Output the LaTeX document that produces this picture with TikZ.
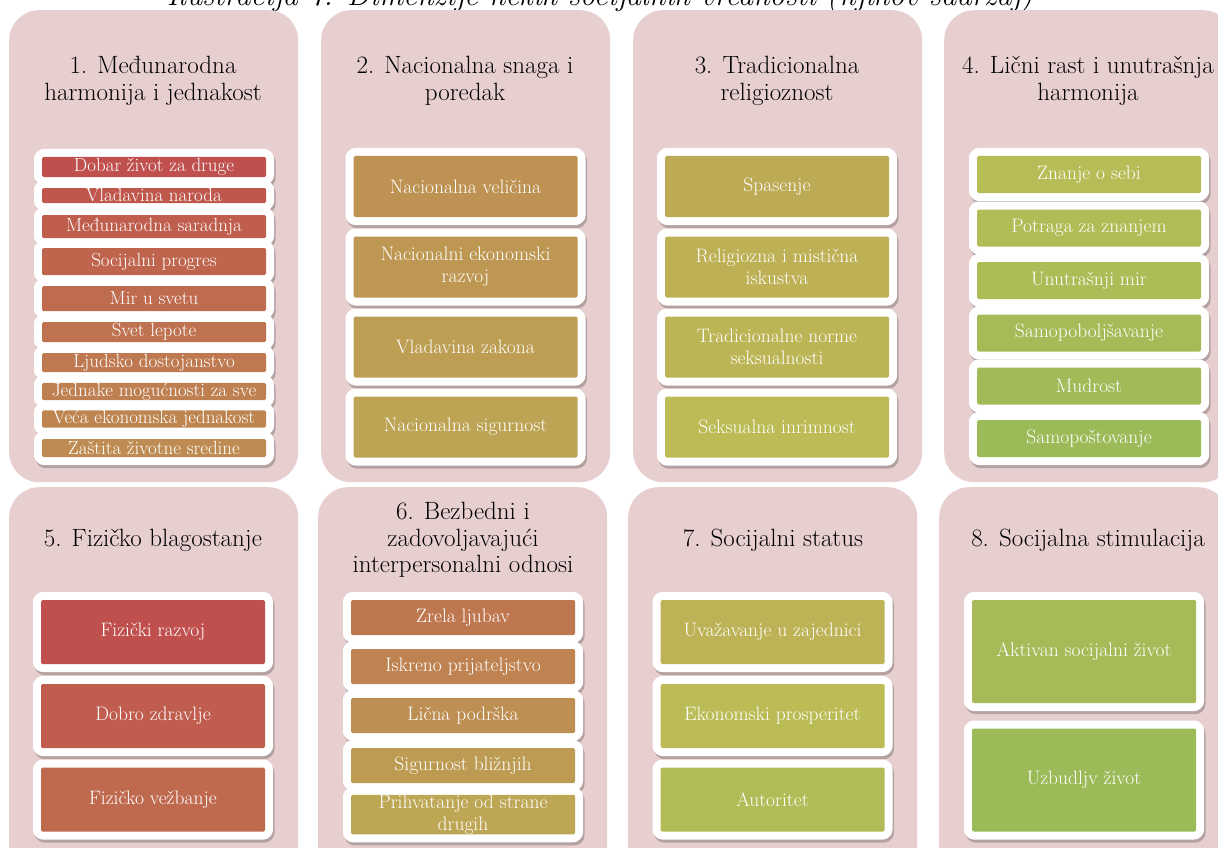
\documentclass[tikz,border=0pt]{standalone}
\usepackage{fontspec}
\usepackage{xcolor}
\usepackage{tikz}
\definecolor{panelpink}{RGB}{231,207,208}

% boja stavke: od crvene (0) do zelene (1)
\newcommand{\itemcolor}[1]{%
  \pgfmathsetmacro\itH{(1.6+78*(#1))/360}%
  \pgfmathsetmacro\itS{0.60-0.076*(#1)}%
  \pgfmathsetmacro\itV{0.753-0.02*(#1)}%
  \definecolor{itemhsb}{hsb}{\itH,\itS,\itV}%
  \colorlet{itemfill}[rgb]{itemhsb}}

\tikzset{
  panel/.style={fill=panelpink, rounded corners=30pt, anchor=north west, minimum width=289pt, inner sep=0pt},
  paneltitle/.style={align=center, font=\fontsize{25}{26.5}\selectfont},
  item/.style={fill=itemfill, text=white, rounded corners=1.5pt, inner sep=0pt, minimum width=224pt, align=center,
    font=\fontsize{19.5}{22}\selectfont,
    preaction={draw=black, opacity=0.22, line width=16pt, line join=round, transform canvas={shift={(1.5pt,-3pt)}}},
    preaction={draw=white, line width=16pt, line join=round}}
}

\begin{document}
\begin{tikzpicture}[x=1pt, y=-1pt]
        % Okvir slike
        \fill[white] (0,0) rectangle (1218,848);
        \useasboundingbox (0,0) rectangle (1218,848);
        \clip (0,0) rectangle (1218,848);

        % Naslov (odsečen, kao na slici)
        \node[font=\itshape\fontsize{30.5}{32}\selectfont, anchor=base] (caption) at (600,6)
            {Ilustracija 7: Dimenzije nekih socijalnih vrednosti (njihov sadržaj)};

        % Paneli
        \foreach \x/\n in {9/1, 321/2, 633/3, 944/4}
            \node[panel, minimum height=472pt] (p\n) at (\x,10) {};
        \foreach \x/\n in {9/5, 318/6, 628/7, 939/8}
            \node[panel, minimum height=400pt] (p\n) at (\x,487) {};

        % Naslovi panela
        \node[paneltitle, font=\fontsize{25}{27}\selectfont] (t1) at (153,81) {1. Međunarodna\\harmonija i jednakost};
        \node[paneltitle, font=\fontsize{25}{27}\selectfont] (t2) at (465,81) {2. Nacionalna snaga i\\poredak};
        \node[paneltitle, font=\fontsize{25}{27}\selectfont] (t3) at (777,81) {3. Tradicionalna\\religioznost};
        \node[paneltitle, font=\fontsize{25}{27}\selectfont] (t4) at (1088,81) {4. Lični rast i unutrašnja\\harmonija};
        \node[paneltitle] (t5) at (153,540) {5. Fizičko blagostanje};
        \node[paneltitle] (t6) at (463,540) {6. Bezbedni i\\zadovoljavajući\\interpersonalni odnosi};
        \node[paneltitle] (t7) at (773,540) {7. Socijalni status};
        \node[paneltitle] (t8) at (1088,540) {8. Socijalna stimulacija};

        % 1. Međunarodna harmonija i jednakost
        \foreach \yc/\hh/\txt [count=\k from 0] in {167/20/Dobar život za druge, 195.5/15/Vladavina naroda,
            226.5/23/Međunarodna saradnja, 261.5/27/Socijalni progres, 298.5/25/Mir u svetu,
            332/20/Svet lepote, 362.5/19/Ljudsko dostojanstvo, 391.5/17/Jednake mogućnosti za sve,
            419/16/Veća ekonomska jednakost, 448/18/Zaštita životne sredine} {
            \itemcolor{\k/23}
            \node[item, minimum height=\hh pt, font=\fontsize{19}{19}\selectfont] (med\k) at (154,\yc) {\txt};
        }

        % 2. Nacionalna snaga i poredak
        \foreach \yc/\txt [count=\k from 0] in {186.5/Nacionalna veličina, 267/Nacionalni ekonomski\\razvoj,
            347/Vladavina zakona, 427/Nacionalna sigurnost} {
            \itemcolor{(10+\k)/23}
            \node[item, minimum height=61pt] (nac\k) at (465.5,\yc) {\txt};
        }

        % 3. Tradicionalna religioznost
        \foreach \yc/\txt [count=\k from 0] in {186.5/Spasenje, 267/Religiozna i mistična\\iskustva,
            347/Tradicionalne norme\\seksualnosti, 427/Seksualna inrimnost} {
            \itemcolor{(14+\k)/23}
            \node[item, minimum height=61pt] (rel\k) at (777,\yc) {\txt};
        }

        % 4. Lični rast i unutrašnja harmonija
        \foreach \yc/\txt [count=\k from 0] in {174.5/Znanje o sebi, 228/Potraga za znanjem,
            280.5/Unutrašnji mir, 333/Samopoboljšavanje, 386/Mudrost, 438.5/Samopoštovanje} {
            \itemcolor{(18+\k)/23}
            \node[item, minimum height=37pt] (lic\k) at (1089,\yc) {\txt};
        }

        % 5. Fizičko blagostanje
        \foreach \yc/\txt [count=\k from 0] in {632/Fizički razvoj, 716/Dobro zdravlje, 799.5/Fizičko vežbanje} {
            \itemcolor{\k/12}
            \node[item, minimum height=64pt] (fiz\k) at (153,\yc) {\txt};
        }

        % 6. Bezbedni i zadovoljavajući interpersonalni odnosi
        \foreach \yc/\txt [count=\k from 0] in {617.5/Zrela ljubav, 666.5/Iskreno prijateljstvo,
            715.5/Lična podrška, 765.5/Sigurnost bližnjih, 814.5/Prihvatanje od strane\\drugih} {
            \itemcolor{(3+\k)/12}
            \node[item, minimum height=35pt] (bez\k) at (463,\yc) {\txt};
        }

        % 7. Socijalni status
        \foreach \yc/\txt [count=\k from 0] in {632/Uvažavanje u zajednici, 716/Ekonomski prosperitet, 799.5/Autoritet} {
            \itemcolor{(8+\k)/12}
            \node[item, minimum height=64pt] (sta\k) at (772.5,\yc) {\txt};
        }

        % 8. Socijalna stimulacija
        \foreach \yc/\txt [count=\k from 0] in {651.5/Aktivan socijalni život, 780/Uzbudljv život} {
            \itemcolor{(11+\k)/12}
            \node[item, minimum height=103pt] (sti\k) at (1084,\yc) {\txt};
        }
\end{tikzpicture}
\end{document}
